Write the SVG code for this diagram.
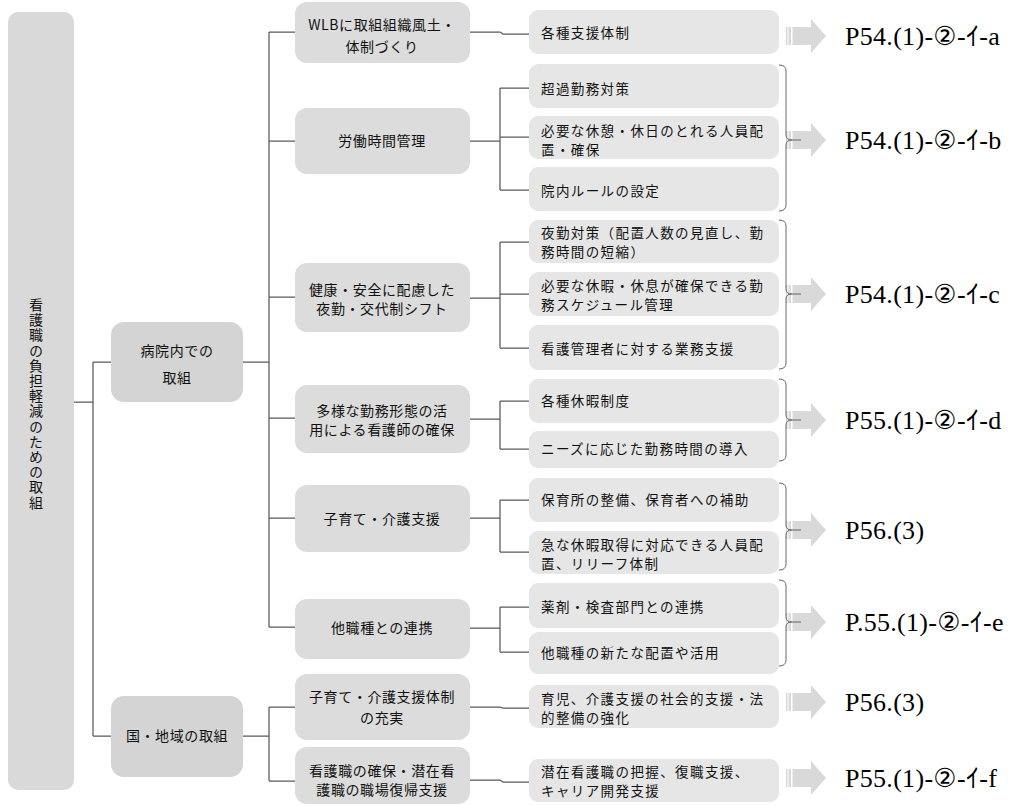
<svg xmlns="http://www.w3.org/2000/svg" xmlns:xlink="http://www.w3.org/1999/xlink" width="1011" height="806" viewBox="0 0 1011 806">
<style>
.jp{font-family:"Noto Sans CJK JP","Noto Sans",sans-serif;font-size:14px;fill:#111;}
.mid{text-anchor:middle;letter-spacing:0.6px;}
.l3{font-size:13.5px;letter-spacing:1.4px;}
.ref{font-family:"Liberation Serif","DejaVu Sans","Noto Sans CJK JP",serif;font-size:26px;letter-spacing:0.3px;fill:#000;}
.b0{fill:#d9d9d9;}
.b1{fill:#d4d4d4;}
.b2{fill:#dcdcdc;}
.b3{fill:#e6e6e6;}
.cn{fill:none;stroke:#5a5a5a;stroke-width:1.25;}
.br{fill:none;stroke:#666;stroke-width:1;}
.ar{fill:#d9d9d9;}
</style>
<defs>
<g id="arr">
<rect class="ar" x="786" y="-9" width="1.5" height="18"/>
<rect class="ar" x="788.5" y="-9" width="2.5" height="18"/>
<rect class="ar" x="792.5" y="-9" width="19" height="18"/>
<polygon class="ar" points="811,-17 826,0 811,17"/>
</g>
</defs>

<g id="connectors">
<path class="cn" d="M74,402 H93 M93,362 V736 M93,362 H111 M93,736 H111"/>
<path class="cn" d="M243,362 H269 M269,32 V627 M269,32 H295 M269,141 H295 M269,297 H295 M269,418 H295 M269,518 H295 M269,627 H295"/>
<path class="cn" d="M243,736 H269 M269,707 V781 M269,707 H295 M269,781 H295"/>
<path class="cn" d="M470,32 H500 L503,34 H529"/>
<path class="cn" d="M470,141 H500 M500,88 V190 M500,88 H529 M500,137 H529 M500,190 H529"/>
<path class="cn" d="M470,298 H500 M500,242 V348 M500,242 H529 M500,294 H529 M500,348 H529"/>
<path class="cn" d="M470,419 H500 M500,401 V449 M500,401 H529 M500,449 H529"/>
<path class="cn" d="M470,518 H500 M500,500 V552 M500,500 H529 M500,552 H529"/>
<path class="cn" d="M470,628 H500 M500,607 V652 M500,607 H529 M500,652 H529"/>
<path class="cn" d="M470,707 H500 L503,708 H529"/>
<path class="cn" d="M470,780 H500 L503,782 H529"/>
</g>

<g id="root">
<rect class="b0" x="8" y="12" width="66" height="778" rx="10"/>
<text class="jp" x="36" y="404" style="writing-mode:vertical-rl;text-anchor:middle;letter-spacing:1.2px">看護職の負担軽減のための取組</text>
</g>

<g id="n-hospital">
<rect class="b1" x="111" y="322" width="132" height="80" rx="13"/>
<text class="jp mid" x="177" y="356">病院内での</text>
<text class="jp mid" x="177" y="383">取組</text>
</g>
<g id="n-national">
<rect class="b1" x="111" y="696" width="132" height="81" rx="13"/>
<text class="jp mid" x="177" y="741">国・地域の取組</text>
</g>

<g id="n-wlb">
<rect class="b2" x="295" y="2" width="175" height="61" rx="12"/>
<text class="jp mid" x="382" y="30">WLBに取組組織風土・</text>
<text class="jp mid" x="382" y="52">体制づくり</text>
</g>
<g id="n-roudou">
<rect class="b2" x="295" y="108" width="175" height="66" rx="12"/>
<text class="jp mid" x="382" y="146">労働時間管理</text>
</g>
<g id="n-kenkou">
<rect class="b2" x="295" y="263" width="175" height="69" rx="12"/>
<text class="jp mid" x="382" y="295">健康・安全に配慮した</text>
<text class="jp mid" x="382" y="314">夜勤・交代制シフト</text>
</g>
<g id="n-tayou">
<rect class="b2" x="295" y="385" width="175" height="68" rx="12"/>
<text class="jp mid" x="382" y="416">多様な勤務形態の活</text>
<text class="jp mid" x="382" y="435">用による看護師の確保</text>
</g>
<g id="n-kosodate">
<rect class="b2" x="295" y="485" width="175" height="67" rx="12"/>
<text class="jp mid" x="382" y="524">子育て・介護支援</text>
</g>
<g id="n-tashoku">
<rect class="b2" x="295" y="599" width="175" height="60" rx="12"/>
<text class="jp mid" x="382" y="633">他職種との連携</text>
</g>
<g id="n-kosodate2">
<rect class="b2" x="295" y="674" width="175" height="66" rx="12"/>
<text class="jp mid" x="382" y="702">子育て・介護支援体制</text>
<text class="jp mid" x="382" y="723">の充実</text>
</g>
<g id="n-kango">
<rect class="b2" x="295" y="747" width="175" height="57" rx="12"/>
<text class="jp mid" x="382" y="776">看護職の確保・潜在看</text>
<text class="jp mid" x="382" y="795">護職の職場復帰支援</text>
</g>

<g id="c-kakushu">
<rect class="b3" x="529" y="10" width="250" height="44" rx="9"/>
<text class="jp l3" x="541" y="38">各種支援体制</text>
</g>
<g id="c-choka">
<rect class="b3" x="529" y="64" width="250" height="44" rx="9"/>
<text class="jp l3" x="541" y="94">超過勤務対策</text>
</g>
<g id="c-kyukei">
<rect class="b3" x="529" y="116" width="250" height="43" rx="9"/>
<text class="jp l3" x="541" y="136">必要な休憩・休日のとれる人員配</text>
<text class="jp l3" x="541" y="155">置・確保</text>
</g>
<g id="c-innai">
<rect class="b3" x="529" y="167" width="250" height="44" rx="9"/>
<text class="jp l3" x="541" y="196">院内ルールの設定</text>
</g>
<g id="c-yakin">
<rect class="b3" x="529" y="220" width="250" height="43" rx="9"/>
<text class="jp l3" x="541" y="238">夜勤対策（配置人数の見直し、勤</text>
<text class="jp l3" x="541" y="257">務時間の短縮）</text>
</g>
<g id="c-kyuka">
<rect class="b3" x="529" y="272" width="250" height="44" rx="9"/>
<text class="jp l3" x="541" y="291">必要な休暇・休息が確保できる勤</text>
<text class="jp l3" x="541" y="310">務スケジュール管理</text>
</g>
<g id="c-kanrisha">
<rect class="b3" x="529" y="325" width="250" height="45" rx="9"/>
<text class="jp l3" x="541" y="354">看護管理者に対する業務支援</text>
</g>
<g id="c-kyukaseido">
<rect class="b3" x="529" y="379" width="250" height="44" rx="9"/>
<text class="jp l3" x="541" y="406">各種休暇制度</text>
</g>
<g id="c-needs">
<rect class="b3" x="529" y="431" width="250" height="37" rx="9"/>
<text class="jp l3" x="541" y="454">ニーズに応じた勤務時間の導入</text>
</g>
<g id="c-hoiku">
<rect class="b3" x="529" y="478" width="250" height="44" rx="9"/>
<text class="jp l3" x="541" y="505">保育所の整備、保育者への補助</text>
</g>
<g id="c-kyuna">
<rect class="b3" x="529" y="531" width="250" height="43" rx="9"/>
<text class="jp l3" x="541" y="550">急な休暇取得に対応できる人員配</text>
<text class="jp l3" x="541" y="569">置、リリーフ体制</text>
</g>
<g id="c-yakuzai">
<rect class="b3" x="529" y="583" width="250" height="45" rx="9"/>
<text class="jp l3" x="541" y="612">薬剤・検査部門との連携</text>
</g>
<g id="c-aratana">
<rect class="b3" x="529" y="632" width="250" height="42" rx="9"/>
<text class="jp l3" x="541" y="658">他職種の新たな配置や活用</text>
</g>
<g id="c-ikuji">
<rect class="b3" x="529" y="685" width="250" height="43" rx="9"/>
<text class="jp l3" x="541" y="704">育児、介護支援の社会的支援・法</text>
<text class="jp l3" x="541" y="723">的整備の強化</text>
</g>
<g id="c-senzai">
<rect class="b3" x="529" y="759" width="250" height="43" rx="9"/>
<text class="jp l3" x="541" y="777">潜在看護職の把握、復職支援、</text>
<text class="jp l3" x="541" y="796">キャリア開発支援</text>
</g>

<g id="arrows">
<use xlink:href="#arr" href="#arr" y="36"/>
<use xlink:href="#arr" href="#arr" y="140"/>
<use xlink:href="#arr" href="#arr" y="294"/>
<use xlink:href="#arr" href="#arr" y="420"/>
<use xlink:href="#arr" href="#arr" y="530"/>
<use xlink:href="#arr" href="#arr" y="622"/>
<use xlink:href="#arr" href="#arr" y="702"/>
<use xlink:href="#arr" href="#arr" y="778"/>
</g>

<g id="brackets">
<path class="br" d="M779,65 Q786,65 786,71 V135 Q786,140 792,140 Q786,140 786,145 V205 Q786,211 779,211 M792,140 H801"/>
<path class="br" d="M779,220 Q786,220 786,226 V289 Q786,294 792,294 Q786,294 786,299 V363 Q786,369 779,369 M792,294 H801"/>
<path class="br" d="M779,379 Q786,379 786,385 V415 Q786,420 792,420 Q786,420 786,425 V455 Q786,461 779,461 M792,420 H801"/>
<path class="br" d="M779,483 Q786,483 786,489 V525 Q786,530 792,530 Q786,530 786,535 V564 Q786,570 779,570 M792,530 H801"/>
<path class="br" d="M779,580 Q786,580 786,586 V617 Q786,622 792,622 Q786,622 786,627 V660 Q786,666 779,666 M792,622 H801"/>
</g>

<g id="refs">
<text class="ref" x="845" y="45">P54.(1)-②-ｲ-a</text>
<text class="ref" x="845" y="149">P54.(1)-②-ｲ-b</text>
<text class="ref" x="845" y="303">P54.(1)-②-ｲ-c</text>
<text class="ref" x="845" y="429">P55.(1)-②-ｲ-d</text>
<text class="ref" x="845" y="539">P56.(3)</text>
<text class="ref" x="845" y="631">P.55.(1)-②-ｲ-e</text>
<text class="ref" x="845" y="711">P56.(3)</text>
<text class="ref" x="845" y="787">P55.(1)-②-ｲ-f</text>
</g>
</svg>
